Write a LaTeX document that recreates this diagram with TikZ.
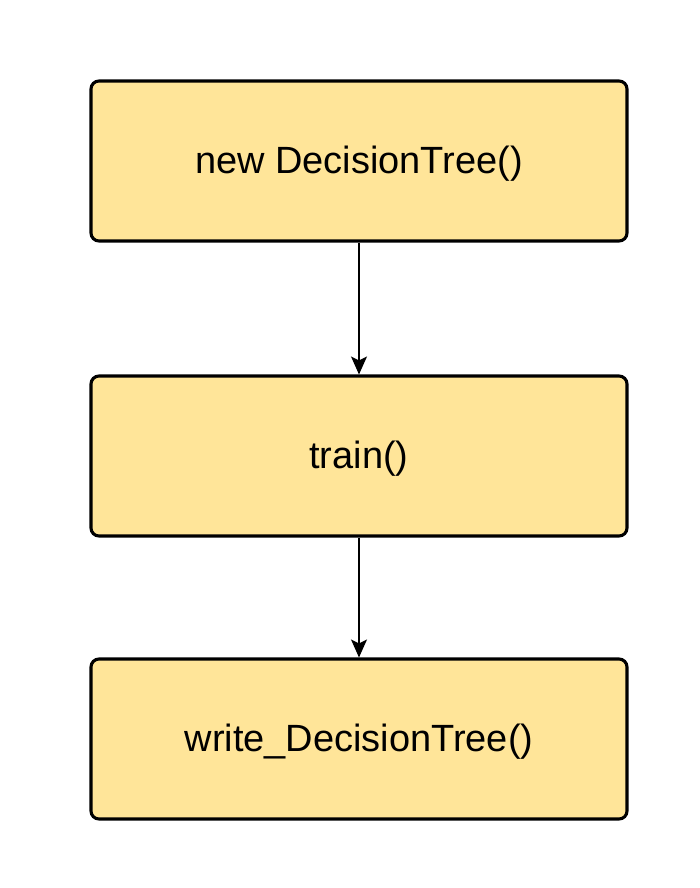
\documentclass[tikz,border=0pt]{standalone}
\usepackage{fontspec}
\setmainfont{Liberation Sans}
\usetikzlibrary{positioning, arrows.meta}
\definecolor{boxfill}{HTML}{FFE599}
\tikzstyle{stepbox} = [draw, fill=boxfill, line width=2.2pt, rounded corners=0.2cm,
    minimum width=13.4cm, minimum height=4cm, inner sep=0mm,
    text height=0.85cm, text depth=0.25cm,
    font=\fontsize{27}{32}\selectfont]
\tikzstyle{flow} = [-{Stealth[length=0.45cm, width=0.4cm, inset=0.1cm]}, line width=1.1pt]

\begin{document}
\begin{tikzpicture}
                \useasboundingbox (0,0) rectangle (17.5,-22.2);
                \node[stepbox] (create) at (8.975,-4.025) {new DecisionTree()};
                \node[stepbox] (train) at (8.975,-11.4) {train()};
                \node[stepbox] (write) at (8.975,-18.475) {write\_DecisionTree()};

                \draw[flow] (create) -- (train);
                \draw[flow] (train) -- (write);
            \end{tikzpicture}
\end{document}
